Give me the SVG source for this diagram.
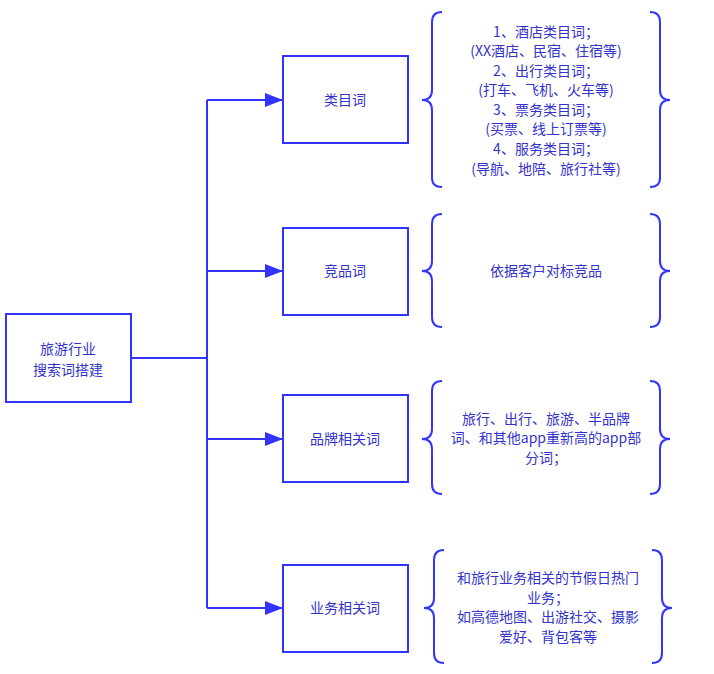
<svg xmlns="http://www.w3.org/2000/svg" width="714" height="674" viewBox="0 0 714 674">
<style>
.b{fill:#fff;stroke:#3333ff;stroke-width:2}
.l{fill:none;stroke:#3333ff;stroke-width:2}
text{font-family:"Noto Sans CJK SC","Liberation Sans",sans-serif;font-size:14px;fill:#3333cc;text-anchor:middle}
</style>
<defs><marker id="a" markerWidth="18" markerHeight="14" refX="17" refY="7" orient="auto" markerUnits="userSpaceOnUse"><path d="M0,0L18,7L0,14Z" fill="#3333ff"/></marker></defs>
<rect width="714" height="674" fill="#fff"/>
<g id="connectors">
<path class="l" d="M131,358H207"/>
<path class="l" d="M207,100V608"/>
<path class="l" d="M207,100H282" marker-end="url(#a)"/>
<path class="l" d="M207,271H282" marker-end="url(#a)"/>
<path class="l" d="M207,439H282" marker-end="url(#a)"/>
<path class="l" d="M207,608H282" marker-end="url(#a)"/>
</g>
<g id="root"><rect class="b" x="6" y="314" width="125" height="88"/><text x="68" y="354">旅游行业</text><text x="68" y="375">搜索词搭建</text></g>
<g id="n1"><rect class="b" x="283" y="56" width="125" height="87"/><text x="345" y="105">类目词</text></g>
<g id="n2"><rect class="b" x="283" y="228" width="125" height="87"/><text x="345" y="276">竞品词</text></g>
<g id="n3"><rect class="b" x="283" y="395" width="125" height="87"/><text x="345" y="444">品牌相关词</text></g>
<g id="n4"><rect class="b" x="283" y="565" width="125" height="87"/><text x="345" y="613">业务相关词</text></g>
<g id="d1"><path class="l" d="M442,12Q432,12 432,22V90Q432,100 422,100Q432,100 432,110V178Q432,187 442,187"/><path class="l" d="M650,12Q660,12 660,22V90Q660,100 670,100Q660,100 660,110V178Q660,187 650,187"/>
<text x="546" y="37">1、酒店类目词；</text><text x="546" y="56">(XX酒店、民宿、住宿等)</text><text x="546" y="76">2、出行类目词；</text><text x="546" y="95">(打车、飞机、火车等)</text><text x="546" y="115">3、票务类目词；</text><text x="546" y="134">(买票、线上订票等)</text><text x="546" y="154">4、服务类目词；</text><text x="546" y="174">(导航、地陪、旅行社等)</text></g>
<g id="d2"><path class="l" d="M442,214Q432,214 432,224V261Q432,271 422,271Q432,271 432,281V317Q432,327 442,327"/><path class="l" d="M650,214Q660,214 660,224V261Q660,271 670,271Q660,271 660,281V317Q660,327 650,327"/><text x="546" y="276">依据客户对标竞品</text></g>
<g id="d3"><path class="l" d="M442,381Q432,381 432,391V429Q432,439 422,439Q432,439 432,449V484Q432,494 442,494"/><path class="l" d="M650,381Q660,381 660,391V429Q660,439 670,439Q660,439 660,449V484Q660,494 650,494"/><text x="546" y="424">旅行、出行、旅游、半品牌</text><text x="546" y="443">词、和其他app重新高的app部</text><text x="546" y="463">分词；</text></g>
<g id="d4"><path class="l" d="M444,550Q434,550 434,560V598Q434,608 424,608Q434,608 434,618V653Q434,663 444,663"/><path class="l" d="M652,550Q662,550 662,560V598Q662,608 672,608Q662,608 662,618V653Q662,663 652,663"/><text x="548" y="583">和旅行业务相关的节假日热门</text><text x="548" y="603">业务；</text><text x="548" y="622">如高德地图、出游社交、摄影</text><text x="548" y="642">爱好、背包客等</text></g>
</svg>
